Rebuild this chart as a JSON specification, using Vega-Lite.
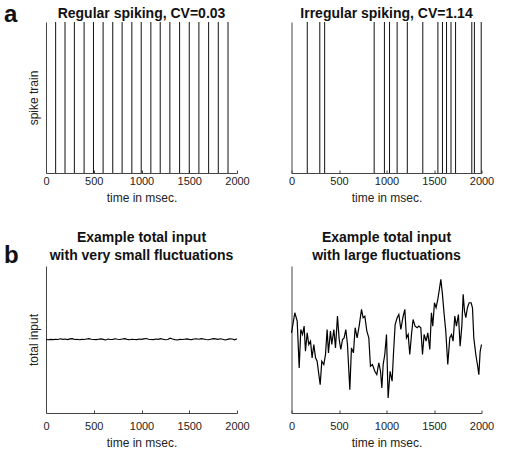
{
  "$schema": "https://vega.github.io/schema/vega-lite/v6.json",
  "padding": {"left": 4, "top": 2, "right": 0, "bottom": 0},
  "spacing": 28,
  "datasets": {
    "regular": [
      {"t": 101}, {"t": 199}, {"t": 297}, {"t": 399}, {"t": 497}, {"t": 598}, {"t": 699},
      {"t": 797}, {"t": 899}, {"t": 997}, {"t": 1098}, {"t": 1196}, {"t": 1297}, {"t": 1399},
      {"t": 1500}, {"t": 1601}, {"t": 1703}, {"t": 1804}, {"t": 1906}
    ],
    "irregular": [
      {"t": 166}, {"t": 298}, {"t": 349}, {"t": 870}, {"t": 978}, {"t": 1032}, {"t": 1112},
      {"t": 1219}, {"t": 1382}, {"t": 1541}, {"t": 1589}, {"t": 1632}, {"t": 1679}, {"t": 1727},
      {"t": 1898}, {"t": 1925}, {"t": 1997}
    ],
    "small": [
      {"t": 0, "v": 50.0}, {"t": 25, "v": 49.8}, {"t": 50, "v": 50.1}, {"t": 75, "v": 49.9},
      {"t": 100, "v": 50.2}, {"t": 125, "v": 50.0}, {"t": 150, "v": 50.5}, {"t": 175, "v": 50.1},
      {"t": 200, "v": 50.3}, {"t": 225, "v": 49.9}, {"t": 250, "v": 50.4}, {"t": 275, "v": 50.6},
      {"t": 300, "v": 50.0}, {"t": 325, "v": 50.2}, {"t": 350, "v": 49.8}, {"t": 375, "v": 50.1},
      {"t": 400, "v": 50.0}, {"t": 425, "v": 50.3}, {"t": 450, "v": 50.6}, {"t": 475, "v": 50.2},
      {"t": 500, "v": 50.0}, {"t": 525, "v": 49.9}, {"t": 550, "v": 50.2}, {"t": 575, "v": 50.4},
      {"t": 600, "v": 50.1}, {"t": 625, "v": 49.7}, {"t": 650, "v": 50.3}, {"t": 675, "v": 50.0},
      {"t": 700, "v": 50.1}, {"t": 725, "v": 50.5}, {"t": 750, "v": 50.2}, {"t": 775, "v": 50.0},
      {"t": 800, "v": 50.3}, {"t": 825, "v": 50.6}, {"t": 850, "v": 50.1}, {"t": 875, "v": 49.8},
      {"t": 900, "v": 50.2}, {"t": 925, "v": 50.0}, {"t": 950, "v": 49.9}, {"t": 975, "v": 50.3},
      {"t": 1000, "v": 50.1}, {"t": 1025, "v": 50.4}, {"t": 1050, "v": 50.7}, {"t": 1075, "v": 50.2},
      {"t": 1100, "v": 50.0}, {"t": 1125, "v": 49.9}, {"t": 1150, "v": 50.3}, {"t": 1175, "v": 50.1},
      {"t": 1200, "v": 50.6}, {"t": 1225, "v": 50.2}, {"t": 1250, "v": 49.8}, {"t": 1275, "v": 50.0},
      {"t": 1300, "v": 50.9}, {"t": 1325, "v": 50.3}, {"t": 1350, "v": 49.9}, {"t": 1375, "v": 49.7},
      {"t": 1400, "v": 50.1}, {"t": 1425, "v": 50.0}, {"t": 1450, "v": 50.2}, {"t": 1475, "v": 50.4},
      {"t": 1500, "v": 50.1}, {"t": 1525, "v": 49.9}, {"t": 1550, "v": 50.3}, {"t": 1575, "v": 50.5},
      {"t": 1600, "v": 50.2}, {"t": 1625, "v": 50.6}, {"t": 1650, "v": 50.3}, {"t": 1675, "v": 50.0},
      {"t": 1700, "v": 49.8}, {"t": 1725, "v": 50.2}, {"t": 1750, "v": 50.6}, {"t": 1775, "v": 50.4},
      {"t": 1800, "v": 50.1}, {"t": 1825, "v": 50.5}, {"t": 1850, "v": 50.2}, {"t": 1875, "v": 49.7},
      {"t": 1900, "v": 50.1}, {"t": 1925, "v": 50.4}, {"t": 1950, "v": 50.3}, {"t": 1975, "v": 49.8},
      {"t": 2000, "v": 50.5}
    ],
    "large": [
      {"t": 0, "v": 54.5}, {"t": 35, "v": 68.2}, {"t": 60, "v": 62.5}, {"t": 81, "v": 30.7},
      {"t": 98, "v": 56.8}, {"t": 116, "v": 53.4}, {"t": 133, "v": 59.1}, {"t": 147, "v": 42.0},
      {"t": 165, "v": 54.5}, {"t": 182, "v": 46.6}, {"t": 200, "v": 48.9}, {"t": 217, "v": 37.5},
      {"t": 235, "v": 46.6}, {"t": 253, "v": 37.5}, {"t": 270, "v": 35.2}, {"t": 281, "v": 29.5},
      {"t": 302, "v": 19.3}, {"t": 319, "v": 35.2}, {"t": 340, "v": 33.0}, {"t": 358, "v": 39.8},
      {"t": 375, "v": 56.8}, {"t": 389, "v": 40.9}, {"t": 410, "v": 55.7}, {"t": 424, "v": 46.6},
      {"t": 446, "v": 56.8}, {"t": 463, "v": 44.3}, {"t": 484, "v": 65.9}, {"t": 502, "v": 50.0},
      {"t": 519, "v": 43.2}, {"t": 537, "v": 50.0}, {"t": 554, "v": 51.1}, {"t": 572, "v": 56.8},
      {"t": 589, "v": 46.6}, {"t": 614, "v": 15.9}, {"t": 631, "v": 44.3}, {"t": 652, "v": 40.9},
      {"t": 670, "v": 58.0}, {"t": 691, "v": 51.1}, {"t": 712, "v": 59.1}, {"t": 737, "v": 70.5},
      {"t": 754, "v": 64.8}, {"t": 772, "v": 65.9}, {"t": 793, "v": 55.7}, {"t": 814, "v": 51.1},
      {"t": 831, "v": 31.8}, {"t": 852, "v": 33.0}, {"t": 877, "v": 28.4}, {"t": 898, "v": 26.1},
      {"t": 919, "v": 34.1}, {"t": 937, "v": 28.4}, {"t": 951, "v": 17.0}, {"t": 965, "v": 33.0},
      {"t": 982, "v": 39.8}, {"t": 1000, "v": 53.4}, {"t": 1017, "v": 10.2}, {"t": 1038, "v": 28.4},
      {"t": 1059, "v": 21.6}, {"t": 1073, "v": 39.8}, {"t": 1091, "v": 60.2}, {"t": 1112, "v": 64.8},
      {"t": 1130, "v": 67.0}, {"t": 1151, "v": 56.8}, {"t": 1172, "v": 64.8}, {"t": 1193, "v": 70.5},
      {"t": 1210, "v": 51.1}, {"t": 1228, "v": 53.4}, {"t": 1245, "v": 39.8}, {"t": 1263, "v": 53.4},
      {"t": 1280, "v": 63.6}, {"t": 1301, "v": 59.1}, {"t": 1323, "v": 58.0}, {"t": 1340, "v": 59.1},
      {"t": 1361, "v": 58.0}, {"t": 1379, "v": 39.8}, {"t": 1396, "v": 53.4}, {"t": 1417, "v": 48.9},
      {"t": 1435, "v": 54.5}, {"t": 1456, "v": 43.2}, {"t": 1473, "v": 68.2}, {"t": 1487, "v": 59.1},
      {"t": 1505, "v": 75.0}, {"t": 1522, "v": 71.6}, {"t": 1540, "v": 77.3}, {"t": 1554, "v": 83.0},
      {"t": 1572, "v": 90.9}, {"t": 1589, "v": 80.7}, {"t": 1607, "v": 67.0}, {"t": 1624, "v": 55.7},
      {"t": 1645, "v": 33.0}, {"t": 1666, "v": 51.1}, {"t": 1684, "v": 53.4}, {"t": 1701, "v": 48.9},
      {"t": 1719, "v": 65.9}, {"t": 1736, "v": 59.1}, {"t": 1757, "v": 67.0}, {"t": 1775, "v": 45.5},
      {"t": 1793, "v": 59.1}, {"t": 1807, "v": 80.7}, {"t": 1821, "v": 69.3}, {"t": 1835, "v": 64.8},
      {"t": 1852, "v": 71.6}, {"t": 1870, "v": 75.0}, {"t": 1891, "v": 75.0}, {"t": 1905, "v": 71.6},
      {"t": 1919, "v": 51.1}, {"t": 1940, "v": 39.8}, {"t": 1957, "v": 33.0}, {"t": 1972, "v": 26.1},
      {"t": 1986, "v": 42.0}, {"t": 2000, "v": 46.6}
    ]
  },
  "config": {
    "view": {"stroke": null},
    "font": "Liberation Sans",
    "title": {"font": "Liberation Sans", "fontSize": 14, "fontWeight": "bold", "color": "#111", "offset": 1, "lineHeight": 18},
    "axis": {
      "grid": false,
      "domainColor": "#444",
      "tickColor": "#444",
      "labelFont": "Liberation Sans",
      "labelFontSize": 11,
      "labelColor": "#222",
      "labelFlush": false,
      "format": "d",
      "titleFont": "Liberation Sans",
      "titleFontSize": 12,
      "titleFontWeight": "normal",
      "titleColor": "#222"
    }
  },
  "vconcat": [
    {
      "title": {"text": "a", "anchor": "start", "fontSize": 24, "offset": 4, "dx": -23, "dy": 24},
      "spacing": 37.5,
      "hconcat": [
        {
          "width": 191, "height": 151,
          "title": "Regular spiking, CV=0.03",
          "data": {"name": "regular"},
          "mark": {"type": "rule", "color": "#111", "strokeWidth": 1},
          "encoding": {
            "x": {"field": "t", "type": "quantitative", "scale": {"domain": [0, 2000]},
                  "axis": {"values": [0, 500, 1000, 1500, 2000], "format": "d", "title": "time in msec.", "tickSize": -3, "labelPadding": 5, "titlePadding": 6}},
            "y": {"datum": 0, "type": "quantitative", "scale": {"domain": [0, 1]},
                  "axis": {"title": "spike train", "labels": false, "ticks": false, "titlePadding": 6}},
            "y2": {"datum": 1}
          }
        },
        {
          "width": 190, "height": 151,
          "title": "Irregular spiking, CV=1.14",
          "data": {"name": "irregular"},
          "mark": {"type": "rule", "color": "#111", "strokeWidth": 1},
          "encoding": {
            "x": {"field": "t", "type": "quantitative", "scale": {"domain": [0, 2000]},
                  "axis": {"values": [0, 500, 1000, 1500, 2000], "format": "d", "title": "time in msec.", "tickSize": -3, "labelPadding": 5, "titlePadding": 6}},
            "y": {"datum": 0, "type": "quantitative", "scale": {"domain": [0, 1]},
                  "axis": {"title": null, "labels": false, "ticks": false}},
            "y2": {"datum": 1}
          }
        }
      ]
    },
    {
      "title": {"text": "b", "anchor": "start", "fontSize": 24, "offset": 4, "dx": -23, "dy": 41},
      "spacing": 37.5,
      "hconcat": [
        {
          "width": 191, "height": 147,
          "title": {"text": ["Example total input", "with very small fluctuations"], "offset": 3},
          "data": {"name": "small"},
          "mark": {"type": "line", "color": "black", "strokeWidth": 1.1},
          "encoding": {
            "x": {"field": "t", "type": "quantitative", "scale": {"domain": [0, 2000]},
                  "axis": {"values": [0, 500, 1000, 1500, 2000], "format": "d", "title": "time in msec.", "tickSize": -3, "labelPadding": 10, "titlePadding": 6}},
            "y": {"field": "v", "type": "quantitative", "scale": {"domain": [0, 100]},
                  "axis": {"title": "total input", "labels": false, "ticks": false, "titlePadding": 6}}
          }
        },
        {
          "width": 190, "height": 147,
          "title": {"text": ["Example total input", "with large fluctuations"], "offset": 3},
          "data": {"name": "large"},
          "mark": {"type": "line", "color": "black", "strokeWidth": 1.2},
          "encoding": {
            "x": {"field": "t", "type": "quantitative", "scale": {"domain": [0, 2000]},
                  "axis": {"values": [0, 500, 1000, 1500, 2000], "format": "d", "title": "time in msec.", "tickSize": -3, "labelPadding": 10, "titlePadding": 6}},
            "y": {"field": "v", "type": "quantitative", "scale": {"domain": [0, 100]},
                  "axis": {"title": null, "labels": false, "ticks": false}}
          }
        }
      ]
    }
  ]
}
